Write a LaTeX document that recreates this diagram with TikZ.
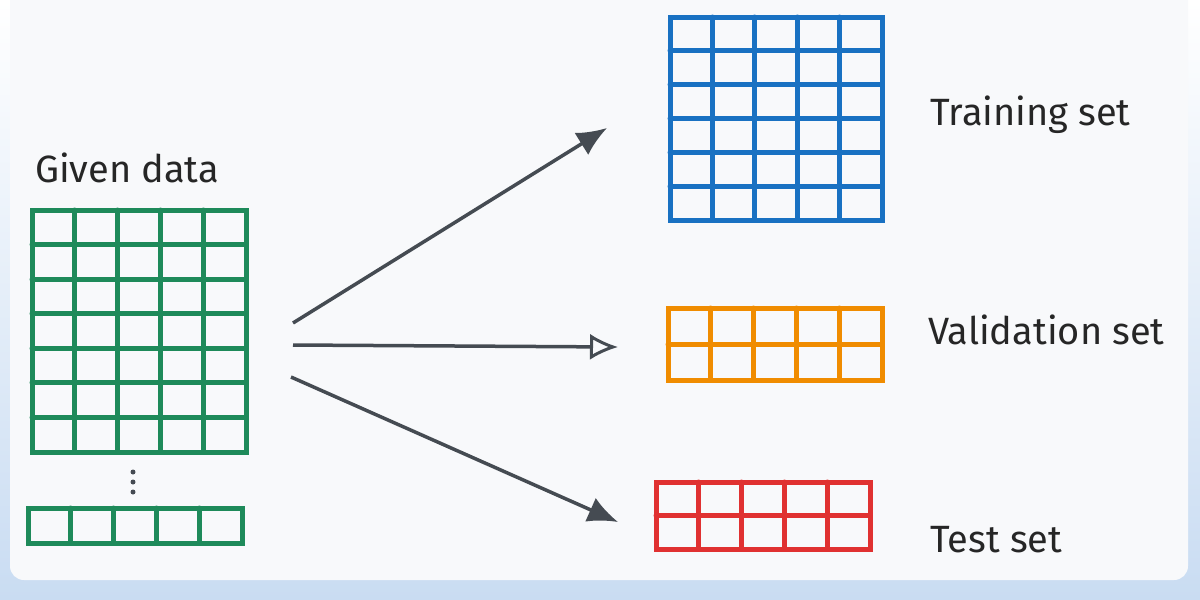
\documentclass[tikz,border=0pt]{standalone}
\usepackage{fontspec}
\setmainfont{Fira Sans}
\usetikzlibrary{arrows.meta}
\definecolor{gG}{HTML}{1E8A5A}
\definecolor{gB}{HTML}{1971C2}
\definecolor{gO}{HTML}{F08C00}
\definecolor{gR}{HTML}{E03131}
\definecolor{arr}{HTML}{454B52}
\definecolor{bgin}{HTML}{F8F9FB}
\definecolor{bgout}{HTML}{C9DCF2}
\tikzset{
  gridl/.style={line width=5pt, line cap=round},
  lbl/.style={font=\fontsize{38}{42}\selectfont, text=black!85, anchor=west, inner sep=0pt},
  conn/.style={arr, line width=3.5pt, -{Latex[length=30pt,width=26pt]}},
  conno/.style={arr, line width=3.5pt, -{Latex[open,length=28pt,width=26pt,line width=3pt]}}
}
% #1 color, #2 x0, #3 y0, #4 x1, #5 y1, #6 rows, #7 name
\newcommand{\mygrid}[7]{%
  \draw[gridl,#1] (#2,#3) rectangle (#4,#5);
  \foreach \i in {1,...,4} \draw[gridl,#1] ({#2+(#4-#2)*\i/5},#3) -- ({#2+(#4-#2)*\i/5},#5);
  \ifnum#6>1
  \foreach \j in {2,...,#6} \draw[gridl,#1] (#2,{#3+(#5-#3)*(\j-1)/#6}) -- (#4,{#3+(#5-#3)*(\j-1)/#6});
  \fi
  \coordinate (#7w) at (#2,{(#3+#5)/2});
}
\begin{document}
\begin{tikzpicture}[x=1pt,y=-1pt]
\useasboundingbox (0,0) rectangle (1200,600);
\shade[top color=white, bottom color=bgout] (0,0) rectangle (1200,600);
\fill[bgin, rounded corners=14pt] (10,-20) rectangle (1188,580);
\mygrid{gG}{32}{210}{246}{452}{7}{given}
\mygrid{gG}{28}{508}{242}{543}{1}{last}
\foreach \y in {472,482,492} \fill[arr] (133,\y) circle (2.5pt);
\mygrid{gB}{670}{17}{882}{220}{6}{train}
\mygrid{gO}{668}{308}{882}{380}{2}{val}
\mygrid{gR}{656}{482}{870}{549}{2}{test}
\node[lbl] (lgiven) at (35,168) {Given data};
\node[lbl] (ltrain) at (930,115) {Training set};
\node[lbl] (lval) at (928,330) {Validation set};
\node[lbl] (ltest) at (930,540) {Test set};
\coordinate (s1) at (293,323);
\coordinate (s2) at (293,345);
\coordinate (s3) at (291,377);
\coordinate (e1) at (607,128);
\coordinate (e2) at (618,347);
\coordinate (e3) at (618,522);
\draw[conn] (s1) -- (e1);
\draw[conno] (s2) -- (e2);
\draw[conn] (s3) -- (e3);
\end{tikzpicture}
\end{document}
